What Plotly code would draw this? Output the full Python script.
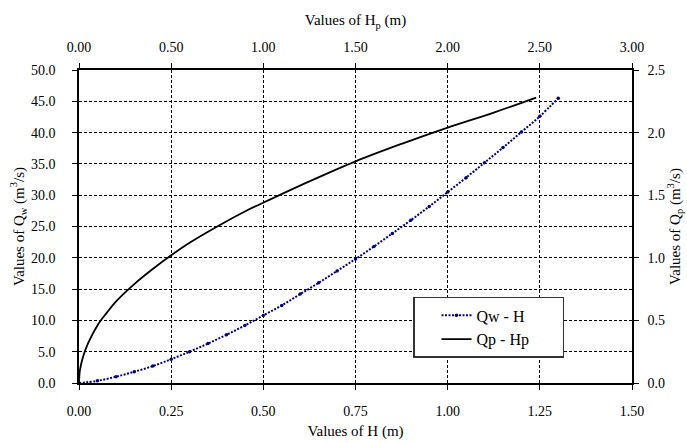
import plotly.graph_objects as go

# Qw - H data (bottom x axis, left y axis)
H = [0, 0.05, 0.10, 0.15, 0.20, 0.25, 0.30, 0.35, 0.40, 0.45, 0.50, 0.55, 0.60, 0.65,
     0.70, 0.75, 0.80, 0.85, 0.90, 0.95, 1.00, 1.05, 1.10, 1.15, 1.20, 1.25, 1.30]
Qw = [0, 0.35, 1.0, 1.8, 2.7, 3.8, 5.0, 6.3, 7.7, 9.2, 10.8, 12.4, 14.2, 16.0,
      17.9, 19.8, 21.8, 23.9, 26.0, 28.2, 30.5, 32.8, 35.2, 37.6, 40.1, 42.6, 45.5]

# Qp - Hp data (top x axis, right y axis)
Hp = [0, 0.005, 0.02, 0.05, 0.1, 0.15, 0.2, 0.3, 0.4, 0.5, 0.6, 0.75, 0.9, 1.0,
      1.25, 1.5, 1.75, 2.0, 2.25, 2.48]
Qp = [0, 0.10, 0.20, 0.32, 0.46, 0.56, 0.65, 0.79, 0.91, 1.02, 1.12, 1.25, 1.37, 1.44,
      1.61, 1.77, 1.91, 2.04, 2.16, 2.28]

FONT = "Liberation Serif"

fig = go.Figure()
fig.add_trace(go.Scatter(
    x=H, y=Qw, name="Qw - H", mode="lines+markers",
    line=dict(color="#000080", width=2, dash="2px,1.5px", shape="spline"),
    marker=dict(color="#000080", size=3.5),
    xaxis="x", yaxis="y"))
fig.add_trace(go.Scatter(
    x=Hp, y=Qp, name="Qp - Hp" + "\u00a0" * 7, mode="lines",
    line=dict(color="black", width=1.8, shape="spline"),
    xaxis="x2", yaxis="y2"))

axis_common = dict(showline=True, linecolor="black", linewidth=1.5, ticks="outside",
                   ticklen=5, tickcolor="black", tickfont=dict(family=FONT, size=14, color="black"),
                   zeroline=False, automargin=False)
TF = dict(family=FONT, size=15, color="black")

fig.update_layout(
    width=687, height=443,
    margin=dict(l=79, r=55, t=70, b=60),
    plot_bgcolor="white", paper_bgcolor="white",
    font=dict(family=FONT, size=14, color="black"),
    xaxis=dict(range=[0, 1.5], dtick=0.25, tickformat=".2f",
               showgrid=True, gridcolor="black", griddash="3px,2px", gridwidth=1,
               ticklabelstandoff=9,
               title=dict(text="Values of H (m)", font=TF, standoff=8),
               **axis_common),
    yaxis=dict(range=[0, 50], dtick=5, tickformat=".1f",
               showgrid=True, gridcolor="black", griddash="3px,2px", gridwidth=1,
               ticklabelstandoff=14,
               title=dict(text="Values of Q<sub>w</sub> (m<sup>3</sup>/s)", font=TF, standoff=3),
               **axis_common),
    xaxis2=dict(range=[0, 3], dtick=0.5, tickformat=".2f", overlaying="x", side="top",
                showgrid=False, ticklabelstandoff=6,
                title=dict(text="Values of H<sub>p</sub> (m)", font=TF, standoff=10),
                **axis_common),
    yaxis2=dict(range=[0, 2.5], dtick=0.5, tickformat=".1f", overlaying="y", side="right",
                showgrid=False, ticklabelstandoff=6,
                title=dict(text="Values of Q<sub>p</sub> (m<sup>3</sup>/s)", font=TF, standoff=4),
                **axis_common),
    legend=dict(x=0.604, y=0.275, xanchor="left", yanchor="top",
                bgcolor="white", bordercolor="#333333", borderwidth=1.5,
                font=dict(family=FONT, size=16, color="black"),
                indentation=22, tracegroupgap=0),
    showlegend=True,
)

fig.write_html("out.html")
